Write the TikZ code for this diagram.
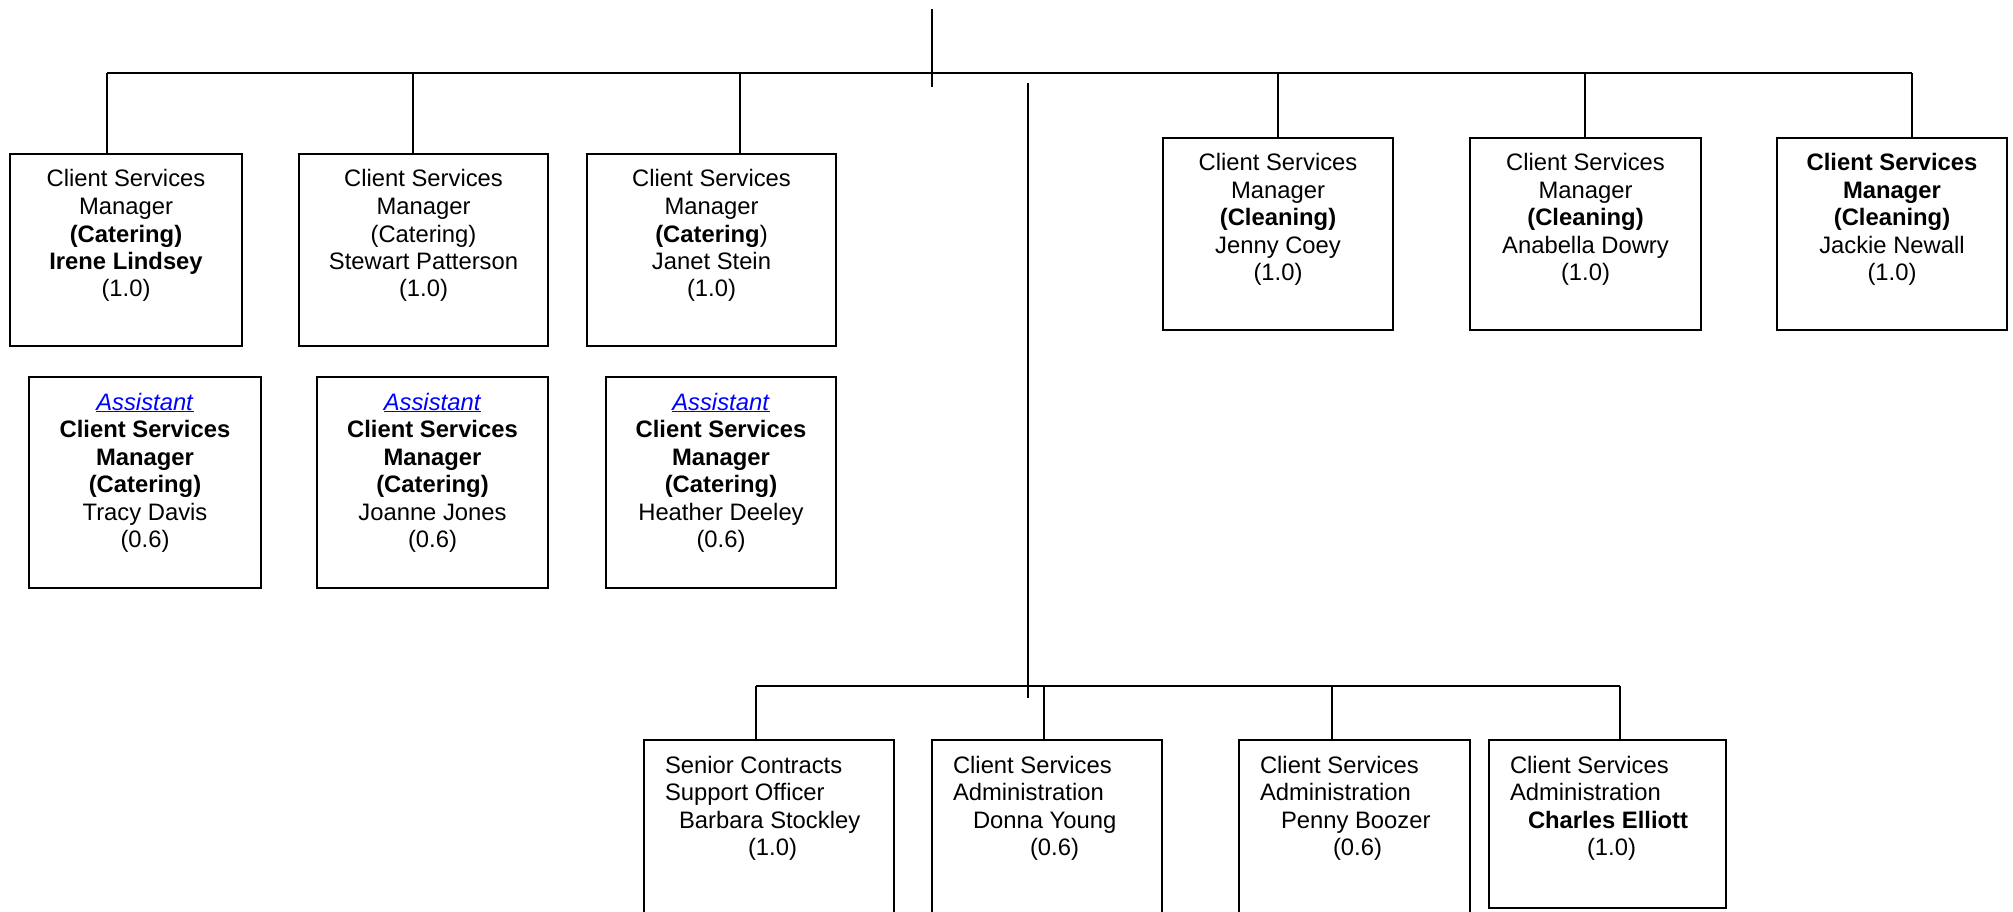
\documentclass[tikz,border=0pt]{standalone}
\usepackage{fontspec}
\setmainfont{Liberation Sans}

% Centred box text: first baseline 33pt below the top edge
\newcommand\ctrtext[3]{\parbox[t][#2][t]{#1}{\centering\rule{0pt}{33pt}#3}}
% Left-set box text with per-line indents
\newcommand\lefttext[3]{\parbox[t][#2][t]{#1}{\raggedright\rule{0pt}{33pt}#3}}

\begin{document}
\begin{tikzpicture}[x=1pt, y=-1pt,
  every node/.style={font=\fontsize{23.8pt}{27.5pt}\selectfont},
  box/.style={draw, line width=1.8pt, inner sep=0pt, outer sep=0pt, anchor=north west},
  link/.style={line width=1.5pt}]

\useasboundingbox (0,0) rectangle (2013,912);

% ---- catering managers ----
\node[box] (m1) at (10,154) {\ctrtext{232pt}{192pt}{Client Services\\Manager\\\textbf{(Catering)}\\\textbf{Irene Lindsey}\\(1.0)}};
\node[box] (m2) at (299,154) {\ctrtext{249pt}{192pt}{Client Services\\Manager\\(Catering)\\Stewart Patterson\\(1.0)}};
\node[box] (m3) at (587,154) {\ctrtext{249pt}{192pt}{Client Services\\Manager\\\textbf{(Catering})\\Janet Stein\\(1.0)}};

% ---- assistant catering managers ----
\newcommand\asst{\textcolor{blue}{\underline{\textit{Assistant}}}}
\node[box] (a1) at (29,377) {\ctrtext{232pt}{211pt}{\asst\\\textbf{Client Services}\\\textbf{Manager}\\\textbf{(Catering)}\\Tracy Davis\\(0.6)}};
\node[box] (a2) at (317,377) {\ctrtext{231pt}{211pt}{\asst\\\textbf{Client Services}\\\textbf{Manager}\\\textbf{(Catering)}\\Joanne Jones\\(0.6)}};
\node[box] (a3) at (606,377) {\ctrtext{230pt}{211pt}{\asst\\\textbf{Client Services}\\\textbf{Manager}\\\textbf{(Catering)}\\Heather Deeley\\(0.6)}};

% ---- cleaning managers ----
\node[box] (c1) at (1163,138) {\ctrtext{230pt}{192pt}{Client Services\\Manager\\\textbf{(Cleaning)}\\Jenny Coey\\(1.0)}};
\node[box] (c2) at (1470,138) {\ctrtext{231pt}{192pt}{Client Services\\Manager\\\textbf{(Cleaning)}\\Anabella Dowry\\(1.0)}};
\node[box] (c3) at (1777,138) {\ctrtext{230pt}{192pt}{\textbf{Client Services}\\\textbf{Manager}\\\textbf{(Cleaning)}\\Jackie Newall\\(1.0)}};

% ---- administration ----
\node[box] (b1) at (644,740) {\lefttext{250pt}{176pt}{\hspace*{21pt}Senior Contracts\\\hspace*{21pt}Support Officer\\\hspace*{35pt}Barbara Stockley\\\hspace*{104pt}(1.0)}};
\node[box] (b2) at (932,740) {\lefttext{230pt}{176pt}{\hspace*{21pt}Client Services\\\hspace*{21pt}Administration\\\hspace*{41pt}Donna Young\\\hspace*{98pt}(0.6)}};
\node[box] (b3) at (1239,740) {\lefttext{231pt}{176pt}{\hspace*{21pt}Client Services\\\hspace*{21pt}Administration\\\hspace*{42pt}Penny Boozer\\\hspace*{94pt}(0.6)}};
\node[box] (b4) at (1489,740) {\lefttext{237pt}{168pt}{\hspace*{21pt}Client Services\\\hspace*{21pt}Administration\\\hspace*{39pt}\textbf{Charles Elliott}\\\hspace*{98pt}(1.0)}};

% ---- connector points ----
\coordinate (topA) at (932,9);
\coordinate (topB) at (932,87);
\coordinate (busL) at (107,73);
\coordinate (d2) at (413,73);
\coordinate (d3) at (740,73);
\coordinate (d4) at (1278,73);
\coordinate (d5) at (1585,73);
\coordinate (busR) at (1912,73);
\coordinate (admA) at (1028,83);
\coordinate (admB) at (1028,698);
\coordinate (bbL) at (756,686);
\coordinate (bb2) at (1044,686);
\coordinate (bb3) at (1332,686);
\coordinate (bbR) at (1620,686);

% ---- connectors ----
\draw[link] (topA) -- (topB);
\draw[link] (busL) -- (busR);
\draw[link] (busL) -- (busL |- m1.north);
\draw[link] (d2) -- (d2 |- m2.north);
\draw[link] (d3) -- (d3 |- m3.north);
\draw[link] (d4) -- (d4 |- c1.north);
\draw[link] (d5) -- (d5 |- c2.north);
\draw[link] (busR) -- (busR |- c3.north);
\draw[link] (admA) -- (admB);
\draw[link] (bbL) -- (bbR);
\draw[link] (bbL) -- (bbL |- b1.north);
\draw[link] (bb2) -- (bb2 |- b2.north);
\draw[link] (bb3) -- (bb3 |- b3.north);
\draw[link] (bbR) -- (bbR |- b4.north);

\end{tikzpicture}
\end{document}
